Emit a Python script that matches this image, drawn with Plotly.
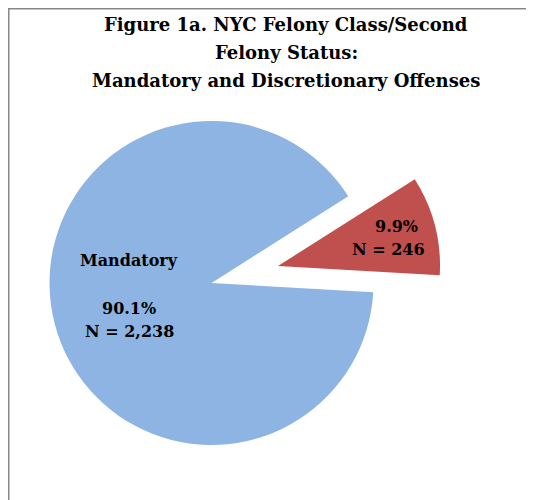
import plotly.graph_objects as go

# ---- data ----
categories = ["Discretionary", "Mandatory"]
counts = [246, 2238]
percents = [9.9, 90.1]
colors = ["#C0504D", "#8DB4E2"]
title_lines = ["Figure 1a. NYC Felony Class/Second", "Felony Status:", "Mandatory and Discretionary Offenses"]

OFF = 8            # page body margin
W, H = 534 - OFF, 500 - OFF
R = 162
blue_c = (211.5, 283.0)   # page pixels
red_c = (278.0, 266.0)
FONT = "DejaVu Serif"
TRANSPARENT = "rgba(0,0,0,0)"


def px(x):
    return (x - OFF) / W


def py(y):
    return 1 - (y - OFF) / H


def domain(c):
    cx, cy = c
    return dict(x=[px(cx - R), px(cx + R)], y=[py(cy + R), py(cy - R)])


fig = go.Figure()
# Mandatory slice (discretionary slot left empty; it is drawn exploded below)
fig.add_trace(go.Pie(
    labels=categories, values=counts, sort=False, direction="clockwise", rotation=57.6,
    marker=dict(colors=[TRANSPARENT, colors[1]], line=dict(width=0)),
    textinfo="none", hoverinfo="skip", showlegend=False, domain=domain(blue_c)))
# Discretionary slice, exploded
fig.add_trace(go.Pie(
    labels=categories, values=counts, sort=False, direction="clockwise", rotation=57.6,
    marker=dict(colors=[colors[0], TRANSPARENT], line=dict(width=0)),
    textinfo="none", hoverinfo="skip", showlegend=False, domain=domain(red_c)))

ann = []


def add_text(text, x, y, size):
    ann.append(dict(text=text, x=px(x), y=py(y), xref="paper", yref="paper",
                    xanchor="center", yanchor="middle", showarrow=False,
                    font=dict(family=FONT, size=size, color="#000000", weight="bold")))


for line, y in zip(title_lines, [25, 52.5, 80]):
    add_text(line, 286, y, 18)

add_text(categories[1], 129, 260.5, 16)
add_text(f"{percents[1]}%", 129, 308.5, 16)
add_text(f"N = {counts[1]:,}", 129, 331.5, 16)
add_text(f"{percents[0]}%", 396, 226, 16)
add_text(f"N = {counts[0]:,}", 388, 249.5, 16)

shapes = [
    dict(type="line", xref="paper", yref="paper", x0=px(8.5), x1=px(8.5), y0=py(8), y1=-0.1,
         line=dict(color="#878787", width=2)),
    dict(type="line", xref="paper", yref="paper", x0=px(8), x1=1.1, y0=py(8.5), y1=py(8.5),
         line=dict(color="#878787", width=2)),
]

fig.update_layout(width=W, height=H, margin=dict(l=0, r=0, t=0, b=0),
                  paper_bgcolor="white", plot_bgcolor="white",
                  annotations=ann, shapes=shapes)
fig.write_html("out.html")
